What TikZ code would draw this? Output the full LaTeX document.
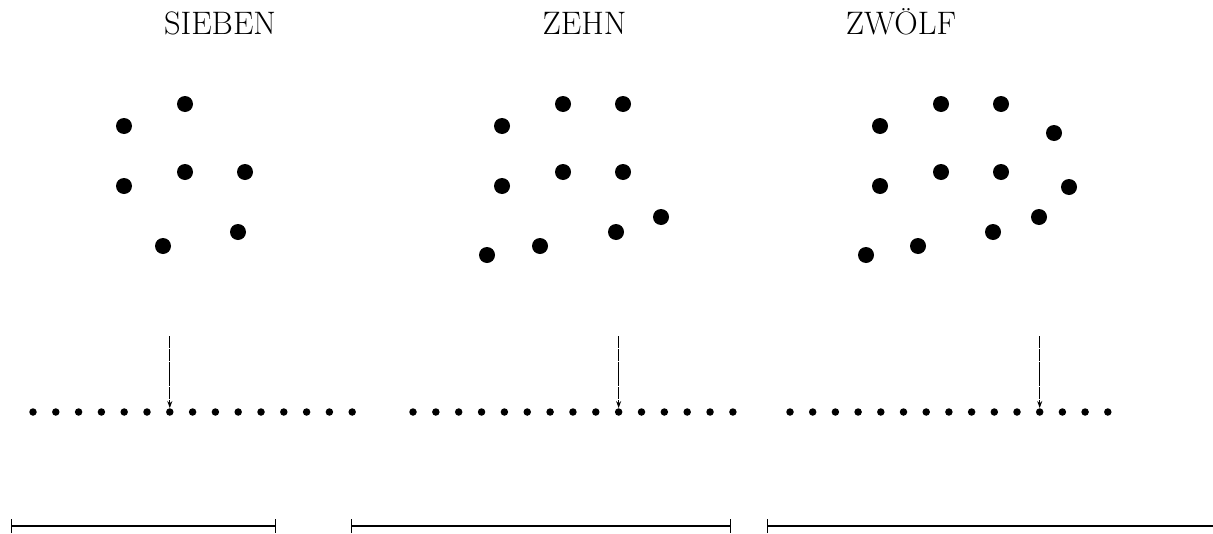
\documentclass[tikz,border=0pt]{standalone}
\usetikzlibrary{arrows.meta}
\begin{document}
\begin{tikzpicture}[x=1pt,y=-1pt,
  bigdot/.style={circle,fill=black,inner sep=0pt,minimum size=16pt},
  rowdot/.style={circle,fill=black,inner sep=0pt,minimum size=7.5pt},
  word/.style={font=\fontsize{32.5}{38}\selectfont,anchor=base},
  pointer/.style={line width=1pt,dash pattern=on 12pt off 0.8pt,-{Stealth[length=7pt,width=5pt]}},
  span/.style={line width=1.1pt,{Bar[width=14pt]}-{Bar[width=14pt]}}]
\useasboundingbox (0,0) rectangle (1213,533);

% number words
\node[word] (w1) at (220,34) {SIEBEN};
\node[word] (w2) at (584.5,34) {ZEHN};
\node[word] (w3) at (901,34) {ZWÖLF};

% scattered sets
\foreach \x/\y [count=\i] in {185/104,124/126,124/186,185/172,245/172,238/232,163/246}
  \node[bigdot] (a\i) at (\x,\y) {};
\foreach \x/\y [count=\i] in {563/104,623/104,502/126,502/186,563/172,623/172,661/217,616/232,540/246,487/255}
  \node[bigdot] (b\i) at (\x,\y) {};
\foreach \x/\y [count=\i] in {941/104,1001/104,880/126,1054/133,880/186,941/172,1001/172,1069/187,1039/217,993/232,918/246,866/255}
  \node[bigdot] (c\i) at (\x,\y) {};

% rows of fifteen
\foreach \i in {0,...,14} {
  \node[rowdot] (p\i) at (33+22.8*\i,412) {};
  \node[rowdot] (q\i) at (413+22.85*\i,412) {};
  \node[rowdot] (r\i) at (790+22.7*\i,412) {};
}

% pointers to the counted position
\coordinate (t1) at (p6 |- 0,336);
\coordinate (t2) at (q9 |- 0,336);
\coordinate (t3) at (r11 |- 0,336);
\draw[pointer] (t1) -- (p6.north);
\draw[pointer] (t2) -- (q9.north);
\draw[pointer] (t3) -- (r11.north);

% spans
\coordinate (s1a) at (11,526);  \coordinate (s1b) at (276,526);
\coordinate (s2a) at (351,526); \coordinate (s2b) at (731,526);
\coordinate (s3a) at (767,526); \coordinate (s3b) at (1240,526);
\draw[span] (s1a) -- (s1b);
\draw[span] (s2a) -- (s2b);
\draw[span] (s3a) -- (s3b);
\end{tikzpicture}
\end{document}
